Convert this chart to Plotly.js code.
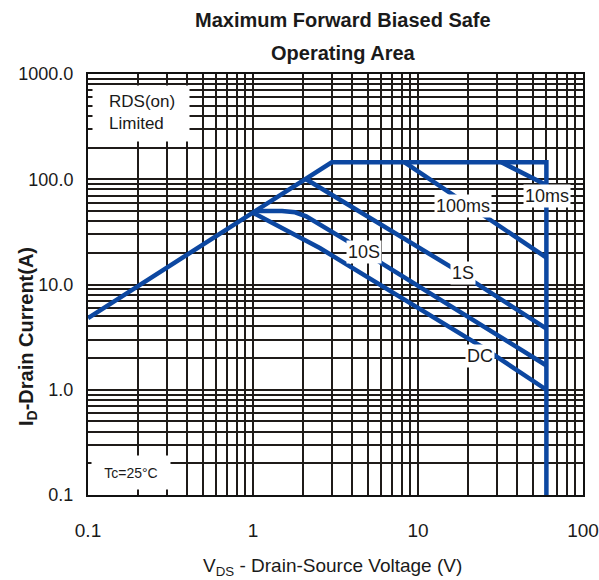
<!DOCTYPE html>
<html>
<head>
<meta charset="utf-8">
<script src="https://cdn.plot.ly/plotly-3.0.1.min.js"></script>
<style>html,body{margin:0;padding:0;background:#fff;}#chart{width:599px;height:580px;}</style>
</head>
<body>
<div id="chart"></div>
<script>
// ---- data ----
const limitV = [0.1, 3.0, 60, 60];
const limitI = [4.8, 145, 145, 0.1];
const ms10V = [32, 60];
const ms10I = [145, 88];
const ms100V = [8.3, 60];
const ms100I = [145, 18];
const s1V = [2.1, 15.8, 60];
const s1I = [100, 14.7, 3.8];
const s10V = [1.04, 1.5, 1.8, 2.1, 3.8, 6.1, 60];
const s10I = [50, 50, 48.5, 44.5, 25.4, 15.7, 1.7];
const dcV = [1.0, 2.54, 24, 60];
const dcI = [48, 22.2, 2.6, 1.0];

const xDecades = [0.1, 1, 10];
const xDecadeLabels = ['0.1', '1', '10', '100'];
const yDecades = [0.1, 1, 10, 100];
const yDecadeLabels = ['0.1', '1.0', '10.0', '100.0', '1000.0'];

// curve labels: [text, V, I]
const curveLabels = [
  ['100ms', 18.7, 55.7],
  ['10ms', 60.5, 69.3],
  ['10S', 4.71, 20.5],
  ['1S', 18.7, 13.0],
  ['DC', 23.8, 2.09]
];

// ---- grid ticks (1..9 per decade) ----
function gridTicks(decades, labels) {
  const vals = [], txt = [];
  decades.forEach((d, i) => {
    for (let m = 1; m <= 9; m++) {
      vals.push(+(d * m).toPrecision(3));
      txt.push(m === 1 ? labels[i] : '');
    }
  });
  vals.push(decades[decades.length - 1] * 10);
  txt.push(labels[labels.length - 1]);
  return {vals, txt};
}
const xg = gridTicks(xDecades, xDecadeLabels);
const yg = gridTicks(yDecades, yDecadeLabels);

const blue = '#0c47a1';
const font = 'Liberation Sans, Arial, Helvetica, sans-serif';
function line(x, y) {
  return {x: x, y: y, type: 'scatter', mode: 'lines', hoverinfo: 'skip',
          line: {color: blue, width: 4.5}, showlegend: false};
}
const data = [
  line(limitV, limitI), line(ms10V, ms10I), line(ms100V, ms100I),
  line(s1V, s1I), line(s10V, s10I), line(dcV, dcI)
];

function px(x) { return (x - 88) / 495; }
function py(y) { return (495 - y) / 421; }

const annotations = curveLabels.map(c => ({
  text: c[0], x: Math.log10(c[1]), y: Math.log10(c[2]), xref: 'x', yref: 'y',
  showarrow: false, bgcolor: '#ffffff', borderpad: 1,
  font: {family: font, size: 18, color: '#1a1a1a'}
}));
annotations.push(
  // white box behind the RDS(on) note
  {text: ' ', xref: 'paper', yref: 'paper', x: px(92), y: py(85),
   xanchor: 'left', yanchor: 'top', showarrow: false, bgcolor: '#ffffff',
   width: 96, height: 55, borderpad: 0, font: {family: font, size: 10}},
  {text: 'RDS(on)<br>Limited', xref: 'paper', yref: 'paper', x: px(107), y: py(112.5),
   xanchor: 'left', yanchor: 'middle', showarrow: false, align: 'left',
   font: {family: font, size: 17, color: '#1a1a1a'}},
  {text: 'Tc=25°C', xref: 'paper', yref: 'paper', x: px(131), y: py(472),
   xanchor: 'center', yanchor: 'middle', showarrow: false, bgcolor: '#ffffff',
   width: 62, height: 17, borderpad: 8,
   font: {family: font, size: 14, color: '#1a1a1a'}},
  {text: '<b>Maximum Forward Biased Safe</b>', xref: 'paper', yref: 'paper',
   x: px(343), y: py(20), xanchor: 'center', yanchor: 'middle',
   showarrow: false, font: {family: font, size: 20, color: '#1a1a1a'}},
  {text: '<b>Operating Area</b>', xref: 'paper', yref: 'paper',
   x: px(343), y: py(53), xanchor: 'center', yanchor: 'middle',
   showarrow: false, font: {family: font, size: 20, color: '#1a1a1a'}},
  {text: 'V<sub>DS</sub> - Drain-Source Voltage (V)', xref: 'paper', yref: 'paper',
   x: px(332), y: py(567), xanchor: 'center', yanchor: 'middle',
   showarrow: false, font: {family: font, size: 19, color: '#1a1a1a'}},
  {text: '<b>I<sub>D</sub>-Drain Current(A)</b>', xref: 'paper', yref: 'paper',
   x: px(27), y: py(337), xanchor: 'center', yanchor: 'middle',
   textangle: -90, showarrow: false, font: {family: font, size: 20, color: '#1a1a1a'}}
);

const gridColor = '#1f1b19';
const layout = {
  width: 599, height: 580,
  margin: {l: 88, r: 16, t: 74, b: 85, pad: 0},
  paper_bgcolor: '#ffffff', plot_bgcolor: '#ffffff',
  showlegend: false,
  font: {family: font, color: '#1a1a1a'},
  xaxis: {
    type: 'log', range: [-1, 2], tickmode: 'array', tickvals: xg.vals, ticktext: xg.txt,
    showgrid: true, gridcolor: gridColor, gridwidth: 2, zeroline: false,
    showline: true, mirror: true, linecolor: '#111', linewidth: 2, tickangle: 0,
    ticks: '', ticklabelstandoff: 17, tickfont: {family: font, size: 19, color: '#1a1a1a'},
    automargin: false, fixedrange: true
  },
  yaxis: {
    type: 'log', range: [-1, 3], tickmode: 'array', tickvals: yg.vals, ticktext: yg.txt,
    showgrid: true, gridcolor: gridColor, gridwidth: 2, zeroline: false,
    showline: true, mirror: true, linecolor: '#111', linewidth: 2,
    ticks: '', ticklabelstandoff: 9, tickfont: {family: font, size: 18, color: '#1a1a1a'},
    automargin: false, fixedrange: true
  },
  annotations: annotations
};

Plotly.newPlot('chart', data, layout, {staticPlot: true, displayModeBar: false});
</script>
</body>
</html>
